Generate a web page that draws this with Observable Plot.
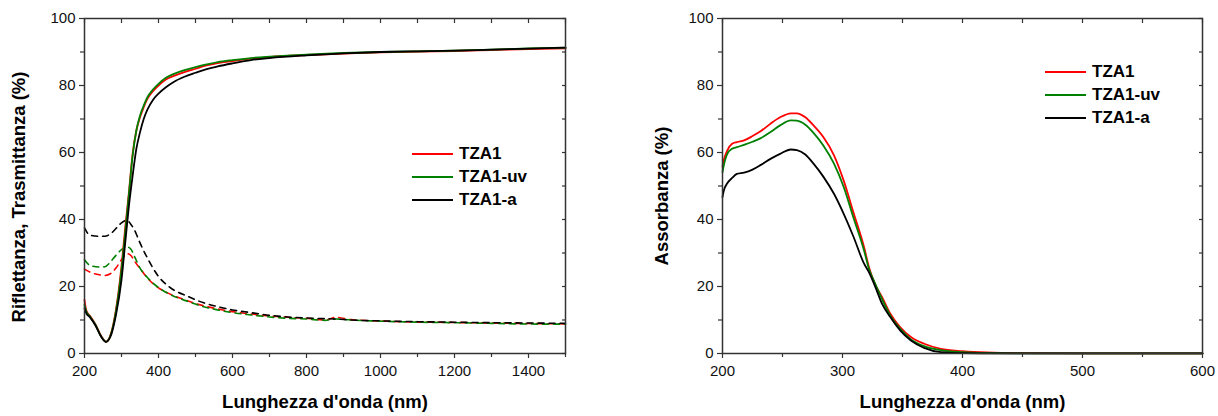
<!DOCTYPE html>
<html>
<head>
<meta charset="utf-8">
<script src="https://cdn.jsdelivr.net/npm/d3@7"></script>
<script src="https://cdn.jsdelivr.net/npm/@observablehq/plot@0.6"></script>
<style>
  body { margin: 0; background: #fff; }
  #wrap { position: relative; width: 1218px; height: 416px; display: flex; font-family: "Liberation Sans", Arial, sans-serif; }
  .legend { position: absolute; font-weight: bold; font-size: 17px; color: #000; }
  .legend .row { position: absolute; left: 0; white-space: nowrap; height: 0; }
  .legend .sw { position: absolute; left: 0; width: 41px; height: 0; border-top: 2px solid; top: -1px; }
  .legend .lb { position: absolute; left: 47px; top: -10px; line-height: 20px; }
</style>
</head>
<body>
<div id="wrap"></div>
<script>
// ---------- data ----------
const seriesNames = ["TZA1", "TZA1-uv", "TZA1-a"];
const seriesColors = ["#ff0000", "#008000", "#000000"];

// Transmittance (solid) – left panel
const T_wl = [200, 205, 215, 230, 245, 258, 270, 285, 300, 310, 320, 330, 340, 350, 360, 370, 385, 400, 420, 440, 470, 500, 530, 560, 600, 650, 700, 800, 900, 1000, 1100, 1200, 1300, 1400, 1500];
const T_TZA1   = [16, 12.8, 11.2, 8.6, 5.2, 3.5, 5.4, 13, 26, 37.5, 48, 59.5, 66.5, 70.5, 73.5, 76, 78.3, 80, 81.8, 82.8, 84, 85, 86, 86.7, 87.3, 88, 88.5, 89.1, 89.5, 89.9, 90.1, 90.3, 90.6, 90.9, 91.1];
const T_TZA1uv = [14.5, 12.5, 11.0, 8.5, 5.1, 3.5, 5.3, 12.6, 25, 36, 47.5, 59, 66.5, 71, 74, 76.5, 78.8, 80.5, 82.3, 83.4, 84.6, 85.5, 86.3, 87, 87.6, 88.2, 88.6, 89.2, 89.7, 90, 90.2, 90.4, 90.7, 91.1, 91.3];
const T_TZA1a  = [13.5, 12, 10.8, 8.3, 5, 3.5, 5, 11.5, 22, 33, 44, 53, 61, 66, 70, 72.8, 75.7, 77.6, 79.5, 81, 82.6, 83.8, 84.9, 85.7, 86.6, 87.6, 88.2, 89, 89.6, 90, 90.2, 90.4, 90.7, 91.0, 91.3];

// Reflectance (dashed) – left panel
const R_wl = [200, 215, 240, 255, 270, 285, 300, 315, 325, 335, 350, 370, 400, 430, 480, 520, 560, 600, 650, 700, 750, 800, 850, 880, 920, 1000, 1100, 1200, 1300, 1400, 1500];
const R_TZA1   = [25.2, 24.3, 23.5, 23.3, 23.8, 25.5, 28, 29.8, 29.3, 27.6, 25.4, 22.5, 19.6, 17.8, 15.7, 14.3, 13.3, 12.5, 11.8, 11.2, 10.8, 10.5, 10.0, 10.8, 10.1, 9.7, 9.4, 9.25, 9.1, 8.95, 8.85];
const R_TZA1uv = [28, 26.3, 25.8, 25.9, 27.3, 29.3, 31, 31.8, 31.2, 29, 25.5, 22.7, 19.7, 17.7, 15.5, 14, 13, 12.2, 11.5, 10.9, 10.5, 10.3, 9.9, 10.3, 10.0, 9.65, 9.35, 9.2, 9.0, 8.8, 8.75];
const R_TZA1a  = [37.5, 35.3, 35, 35, 35.7, 37.3, 39, 39.8, 38.6, 36.9, 33, 28.5, 23, 19.8, 17, 15.2, 14, 13, 12.2, 11.4, 10.9, 10.6, 10.4, 10.3, 10.0, 9.75, 9.5, 9.35, 9.2, 9.1, 9.0];

// Absorbance – right panel
const A_wl = [200, 201, 204, 208, 212, 218, 225, 232, 240, 248, 257, 262, 269, 276, 284, 293, 301, 309, 318, 322, 327, 333, 340, 348, 357, 368, 382, 400, 420, 450, 500, 550, 600];
const A_TZA1   = [55.8, 57.6, 60.6, 62.6, 63.1, 63.6, 64.9, 66.4, 68.6, 70.5, 71.7, 71.7, 70.5, 68, 64.6, 59.1, 51.6, 42.2, 31.7, 25.8, 20.8, 16.8, 11.8, 7.9, 4.9, 2.9, 1.4, 0.7, 0.3, 0.1, 0.05, 0.05, 0.05];
const A_TZA1uv = [54.1, 56, 59.6, 61.1, 61.6, 62.3, 63.2, 64.3, 66.1, 68.1, 69.6, 69.5, 68.3, 65.8, 62.1, 56.6, 49.7, 40.7, 30.7, 25.3, 21, 16.2, 11.2, 7.4, 4.2, 2.2, 1.0, 0.4, 0.15, 0.05, 0.03, 0.03, 0.03];
const A_TZA1a  = [46.7, 48.5, 50.8, 52.4, 53.6, 54, 54.9, 56.3, 58.1, 59.6, 60.9, 60.7, 59.4, 56.6, 52.8, 47.6, 41.7, 35, 26.8, 24.3, 20.2, 14.8, 10.8, 6.9, 3.9, 1.7, 0.4, 0.1, 0.05, 0.02, 0.02, 0.02, 0.02];

// tick labels
const xTicksL = [200, 400, 600, 800, 1000, 1200, 1400];
const xMinorL = [300, 500, 700, 900, 1100, 1300, 1500];
const xTicksR = [200, 300, 400, 500, 600];
const xMinorR = [250, 350, 450, 550];
const yTicks = [0, 20, 40, 60, 80, 100];
const yMinor = [10, 30, 50, 70, 90];

const xLabel = "Lunghezza d'onda (nm)";
const yLabelL = "Riflettanza, Trasmittanza (%)";
const yLabelR = "Assorbanza (%)";

// ---------- build tables ----------
function table(wl, arrays) {
  const out = [];
  arrays.forEach((vals, i) => wl.forEach((w, j) => out.push({wl: w, v: vals[j], s: seriesNames[i]})));
  return out;
}
const Tdata = table(T_wl, [T_TZA1, T_TZA1uv, T_TZA1a]);
const Rdata = table(R_wl, [R_TZA1, R_TZA1uv, R_TZA1a]);
const Adata = table(A_wl, [A_TZA1, A_TZA1uv, A_TZA1a]);

const font = "'Liberation Sans', Arial, sans-serif";
const axisColor = "#333";
const fmt = d => String(d);
const labelSize = 18.5;

function frameMarks(xMajor, xMinor) {
  const allX = [...xMajor, ...xMinor];
  const allY = [...yTicks, ...yMinor];
  return [
    Plot.axisX({ticks: xMajor, tickFormat: fmt, tickSize: 5, tickPadding: 7, stroke: axisColor, strokeWidth: 1.2, fill: "#111", fontSize: 15, label: null}),
    Plot.axisX({ticks: xMinor, tickSize: 4, text: null, label: null, stroke: axisColor, strokeWidth: 1.2}),
    Plot.axisX({anchor: "top", ticks: allX, tickSize: -4, text: null, label: null, stroke: axisColor, strokeWidth: 1.2}),
    Plot.axisY({ticks: yTicks, tickFormat: fmt, tickSize: 5, tickPadding: 4, stroke: axisColor, strokeWidth: 1.2, fill: "#111", fontSize: 15, label: null}),
    Plot.axisY({ticks: yMinor, tickSize: 4, text: null, label: null, stroke: axisColor, strokeWidth: 1.2}),
    Plot.axisY({anchor: "right", ticks: allY, tickSize: -4, text: null, label: null, stroke: axisColor, strokeWidth: 1.2}),
    Plot.frame({stroke: axisColor, strokeWidth: 1.5})
  ];
}

const left = Plot.plot({
  width: 609, height: 416,
  marginLeft: 84, marginRight: 44, marginTop: 18, marginBottom: 63,
  style: {fontFamily: font, fontSize: "15px", background: "white", overflow: "visible"},
  x: {domain: [200, 1500]},
  y: {domain: [0, 100]},
  color: {domain: seriesNames, range: seriesColors},
  marks: [
    Plot.line(Rdata, {x: "wl", y: "v", z: "s", stroke: "s", strokeWidth: 1.6, strokeDasharray: "6,5", curve: "monotone-x"}),
    Plot.line(Tdata, {x: "wl", y: "v", z: "s", stroke: "s", strokeWidth: 1.8, curve: "monotone-x"}),
    ...frameMarks(xTicksL, xMinorL),
    Plot.text([xLabel], {text: d => d, frameAnchor: "bottom", dy: 54, fontWeight: "bold", fontSize: labelSize, fill: "#000"}),
    Plot.text([yLabelL], {text: d => d, frameAnchor: "left", textAnchor: "middle", rotate: -90, dx: -65, dy: 11, fontWeight: "bold", fontSize: labelSize, fill: "#000"})
  ]
});

const right = Plot.plot({
  width: 609, height: 416,
  marginLeft: 113, marginRight: 16, marginTop: 18, marginBottom: 63,
  style: {fontFamily: font, fontSize: "15px", background: "white", overflow: "visible"},
  x: {domain: [200, 600]},
  y: {domain: [0, 100]},
  color: {domain: seriesNames, range: seriesColors},
  marks: [
    Plot.line(Adata, {x: "wl", y: "v", z: "s", stroke: "s", strokeWidth: 1.8, curve: "monotone-x"}),
    ...frameMarks(xTicksR, xMinorR),
    Plot.text([xLabel], {text: d => d, frameAnchor: "bottom", dy: 54, fontWeight: "bold", fontSize: labelSize, fill: "#000"}),
    Plot.text([yLabelR], {text: d => d, frameAnchor: "left", textAnchor: "middle", rotate: -90, dx: -60, dy: 10, fontWeight: "bold", fontSize: labelSize, fill: "#000"})
  ]
});

const wrap = document.getElementById("wrap");
wrap.appendChild(left);
wrap.appendChild(right);

function addLegend(x, y, gap) {
  const lg = document.createElement("div");
  lg.className = "legend";
  lg.style.left = x + "px";
  lg.style.top = y + "px";
  seriesNames.forEach((name, i) => {
    const row = document.createElement("div");
    row.className = "row";
    row.style.top = (i * gap) + "px";
    row.innerHTML = `<div class="sw" style="border-color:${seriesColors[i]}"></div><div class="lb">${name}</div>`;
    lg.appendChild(row);
  });
  wrap.appendChild(lg);
}
addLegend(412, 154, 23);
addLegend(1045, 72, 23);
</script>
</body>
</html>
